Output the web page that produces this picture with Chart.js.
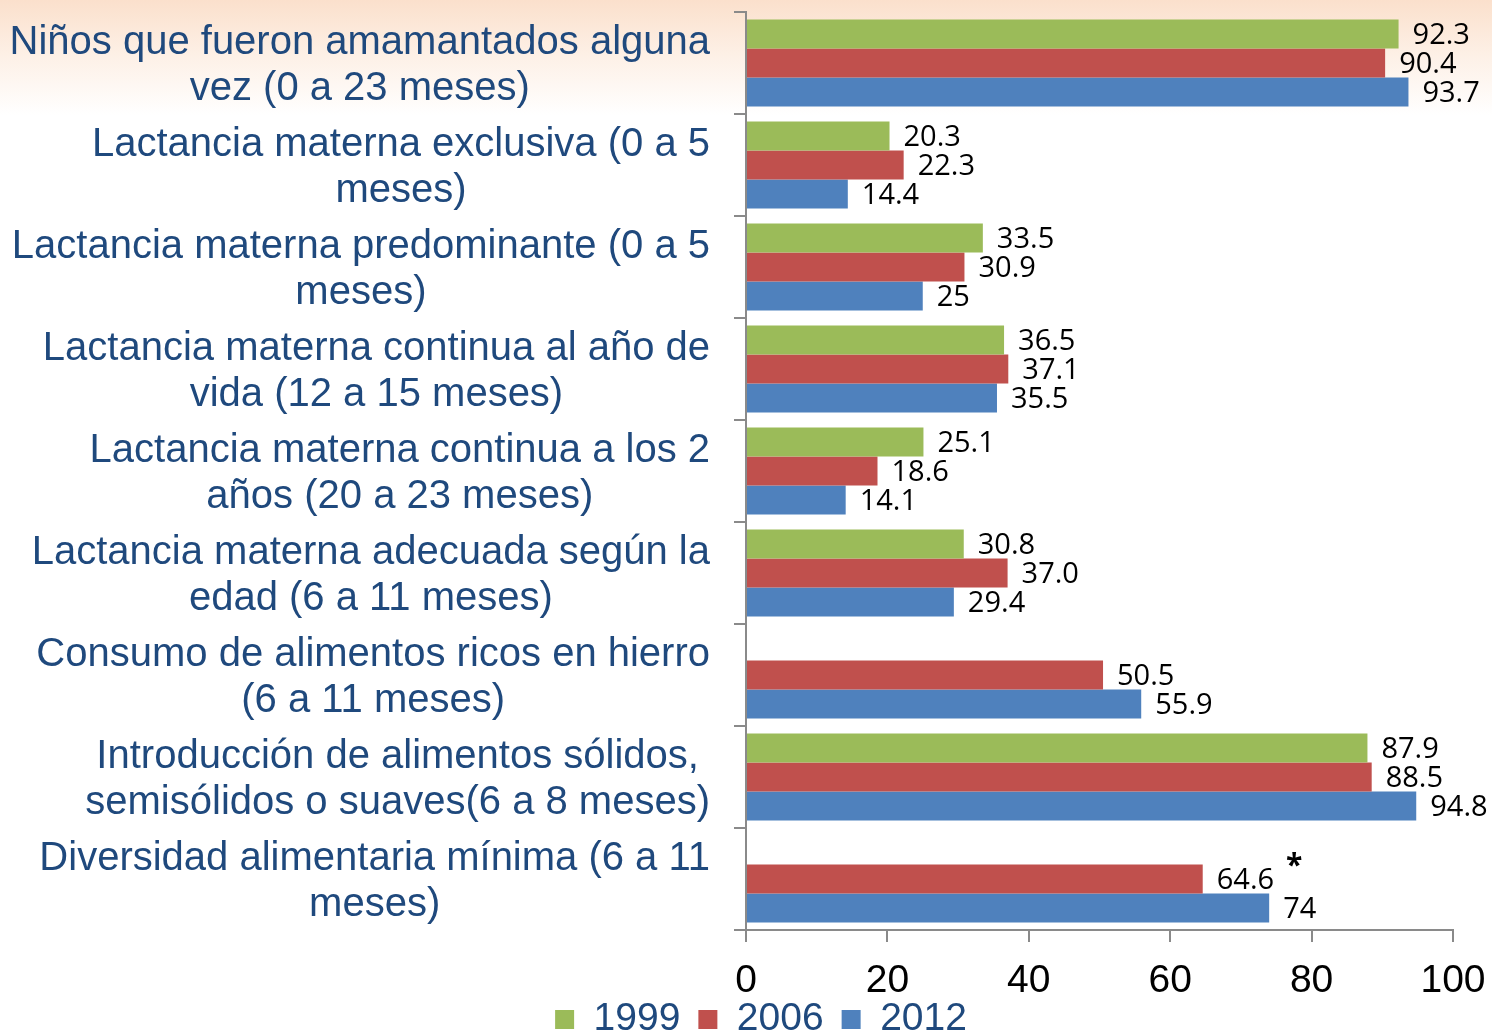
<!DOCTYPE html>
<html lang="es">
<head>
<meta charset="utf-8">
<title>Lactancia materna y alimentación complementaria</title>
<script src="https://cdn.jsdelivr.net/npm/chart.js@4.4.1/dist/chart.umd.min.js"></script>
<style>
html, body { margin: 0; padding: 0; overflow: hidden; background: #fff; }
#wrap {
    position: relative; width: 1492px; height: 1061px;
    background: linear-gradient(to bottom, #fbe0cc 0px, #fdf0e6 55px, #ffffff 115px);
}
</style>
</head>
<body>
<div id="wrap"><canvas id="chart"></canvas></div>
<script>
// Indicadores (eje de categorías), cada uno en sus líneas
const categories = [
    ['Niños que fueron amamantados alguna', 'vez (0 a 23 meses)'],
    ['Lactancia materna exclusiva (0 a 5', 'meses)'],
    ['Lactancia materna predominante (0 a 5', 'meses)'],
    ['Lactancia materna continua al año de', 'vida (12 a 15 meses)'],
    ['Lactancia materna continua a los 2', 'años (20 a 23 meses)'],
    ['Lactancia materna adecuada según la', 'edad (6 a 11 meses)'],
    ['Consumo de alimentos ricos en hierro', '(6 a 11 meses)'],
    ['Introducción de alimentos sólidos,', 'semisólidos o suaves(6 a 8 meses)'],
    ['Diversidad alimentaria mínima (6 a 11', 'meses)'],
];

const years = ['1999', '2006', '2012'];
const values1999 = [92.3, 20.3, 33.5, 36.5, 25.1, 30.8, null, 87.9, null];
const values2006 = [90.4, 22.3, 30.9, 37.1, 18.6, 37.0, 50.5, 88.5, 64.6];
const values2012 = [93.7, 14.4, 25, 35.5, 14.1, 29.4, 55.9, 94.8, 74];
const notes2006 = ['', '', '', '', '', '', '', '', '*'];

const xTicks = [0, 20, 40, 60, 80, 100];

const colors = ['#9bbb59', '#c0504d', '#4f81bd'];
const labelBlue = '#1f497d';
const axisGrey = '#8a8a8a';

Chart.defaults.font.family = '"Liberation Sans", Arial, sans-serif';

// Textos de categoría: bloque centrado, borde derecho fijo junto al eje
const categoryLabels = {
    id: 'categoryLabels',
    afterDraw(chart) {
        const ctx = chart.ctx;
        const yScale = chart.scales.y;
        const right = chart.chartArea.left - 36;
        ctx.save();
        ctx.font = '40px "Liberation Sans", Arial, sans-serif';
        ctx.fillStyle = labelBlue;
        ctx.textAlign = 'center';
        ctx.textBaseline = 'middle';
        categories.forEach((lines, i) => {
            const w = Math.max(...lines.map(l => ctx.measureText(l).width));
            const cx = right - w / 2;
            const cy = yScale.getPixelForValue(i) + 3;
            lines.forEach((l, k) => {
                ctx.fillText(l, cx, cy + (k - (lines.length - 1) / 2) * 46);
            });
        });
        ctx.restore();
    }
};

// Valores al final de cada barra
const valueLabels = {
    id: 'valueLabels',
    afterDatasetsDraw(chart) {
        const ctx = chart.ctx;
        ctx.save();
        ctx.fillStyle = '#000';
        ctx.textAlign = 'left';
        ctx.textBaseline = 'middle';
        chart.data.datasets.forEach((ds, d) => {
            const meta = chart.getDatasetMeta(d);
            meta.data.forEach((bar, j) => {
                const v = ds.data[j];
                if (v === null || v === undefined) return;
                const txt = ds.fixed ? v.toFixed(1) : String(v);
                ctx.font = '29px "Open Sans", sans-serif';
                ctx.fillText(txt, bar.x + 14, bar.y + 2);
                const note = ds.notes ? ds.notes[j] : '';
                if (note) {
                    const w = ctx.measureText(txt).width;
                    ctx.font = 'bold 30px "Open Sans", sans-serif';
                    ctx.fillText(note, bar.x + 14 + w + 12, bar.y - 13);
                }
            });
        });
        ctx.restore();
    }
};

// la leyenda queda pegada bajo los números del eje
const legendNudge = {
    id: 'legendNudge',
    afterLayout(chart) {
        const lg = chart.legend;
        const h = lg.bottom - lg.top;
        lg.top = chart.scales.x.bottom - 19;
        lg.bottom = lg.top + h;
    }
};

new Chart(document.getElementById('chart'), {
    type: 'bar',
    data: {
        labels: categories,
        datasets: [
            { label: years[0], data: values1999, backgroundColor: colors[0], fixed: true },
            { label: years[1], data: values2006, backgroundColor: colors[1], fixed: true, notes: notes2006 },
            { label: years[2], data: values2012, backgroundColor: colors[2], fixed: false },
        ],
    },
    options: {
        indexAxis: 'y',
        responsive: true,
        maintainAspectRatio: false,
        animation: false,
        datasets: { bar: { categoryPercentage: 0.853, barPercentage: 1.0, borderWidth: 0 } },
        layout: { padding: { top: 12, right: 39, bottom: 0, left: 69 } },
        plugins: {
            legend: {
                position: 'bottom',
                maxHeight: 60,
                labels: {
                    color: labelBlue,
                    font: { size: 39 },
                    boxWidth: 19,
                    boxHeight: 19,
                    padding: 18,
                },
            },
            tooltip: { enabled: false },
        },
        scales: {
            x: {
                min: 0,
                max: 100,
                afterBuildTicks: (scale) => { scale.ticks = xTicks.map(v => ({ value: v })); },
                afterFit: (scale) => { scale.paddingRight = 0; scale.paddingLeft = 0; scale.height = 71; },
                ticks: { color: '#000', font: { size: 39, lineHeight: 1 }, padding: 20 },
                grid: { drawOnChartArea: false, tickLength: 12, color: axisGrey, lineWidth: 2 },
                border: { color: axisGrey, width: 2 },
            },
            y: {
                afterFit: (scale) => { scale.width = 746 - 69; },
                ticks: { display: false },
                grid: { offset: true, drawOnChartArea: false, tickLength: 12, color: axisGrey, lineWidth: 2 },
                border: { color: axisGrey, width: 2 },
            },
        },
    },
    plugins: [categoryLabels, valueLabels, legendNudge],
});
</script>
</body>
</html>
